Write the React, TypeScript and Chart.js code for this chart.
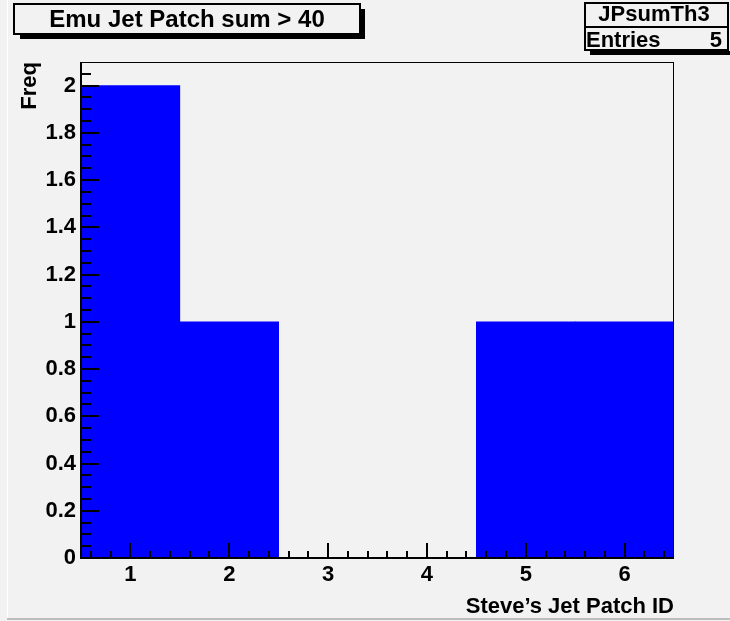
import React, { useEffect, useRef } from 'react';
import { Chart, registerables } from 'chart.js';

Chart.register(...registerables);

// ---- data ----
const BIN_CENTERS = [1, 2, 3, 4, 5, 6];
const COUNTS = [2, 1, 0, 0, 1, 1];
const X_TICKS = [1, 2, 3, 4, 5, 6];
const Y_TICKS = [0, 0.2, 0.4, 0.6, 0.8, 1, 1.2, 1.4, 1.6, 1.8, 2];
const X_MIN = 0.5;
const X_MAX = 6.5;
const Y_MIN = 0;
const Y_MAX = 2.1;
const TITLE = 'Emu Jet Patch sum > 40';
const HIST_NAME = 'JPsumTh3';
const ENTRIES_LABEL = 'Entries';
const ENTRIES = 5;
const X_TITLE = 'Steve\u2019s Jet Patch ID';
const Y_TITLE = 'Freq';

// ---- style ----
const BG = '#f2f2f2';
const BAR_COLOR = '#0000ff';
const FAMILY = "'Liberation Sans', Arial, Helvetica, sans-serif";
const LABEL_FONT = { family: FAMILY, size: 22, weight: 'bold' as const };

const fmt = (v: number) => String(Number(v.toFixed(2)));

const rootStyle = {
  id: 'rootStyle',
  beforeDraw(chart: any) {
    const { ctx, width, height } = chart;
    ctx.save();
    ctx.fillStyle = BG;
    ctx.fillRect(0, 0, width, height);
    // canvas border (3D look)
    ctx.fillStyle = '#ffffff';
    ctx.fillRect(7, 0, 1, 619);
    ctx.fillStyle = '#bdbdbd';
    ctx.fillRect(7, 618, width - 7, 2);
    ctx.restore();
  },
  afterDatasetsDraw(chart: any) {
    const { ctx, chartArea: a, scales } = chart;
    const x = scales.x;
    const y = scales.y;
    ctx.save();
    ctx.fillStyle = '#000';
    // frame
    ctx.fillRect(a.left, a.top, a.right - a.left, 1);
    ctx.fillRect(a.right - 1, a.top, 1, a.bottom - a.top);
    // axes
    ctx.fillRect(a.left - 1, a.top, 2, a.bottom - a.top + 1);
    ctx.fillRect(a.left - 1, a.bottom - 1, a.right - a.left + 1, 2);
    // y ticks (major 0.2, minor 0.05)
    for (let k = 1; ; k++) {
      const v = Y_MIN + k * 0.05;
      if (v >= Y_MAX - 1e-9) break;
      const py = Math.round(y.getPixelForValue(v));
      const major = k % 4 === 0;
      ctx.fillRect(a.left, py - 1, major ? 18 : 10, 2);
    }
    // x ticks (major 1, minor 0.2)
    for (let k = 3; k <= 32; k++) {
      const v = k * 0.2;
      if (v <= X_MIN || v >= X_MAX) continue;
      const px = Math.round(x.getPixelForValue(v));
      const major = k % 5 === 0;
      const len = major ? 15 : 7;
      ctx.fillRect(px - 1, a.bottom - len, 2, len);
    }
    ctx.restore();
  },
  afterDraw(chart: any) {
    const { ctx } = chart;
    ctx.save();
    // title box
    ctx.fillStyle = '#000';
    ctx.fillRect(361, 9, 4, 30);
    ctx.fillRect(20, 35, 345, 4);
    ctx.fillStyle = BG;
    ctx.fillRect(13, 3, 348, 32);
    ctx.strokeStyle = '#000';
    ctx.lineWidth = 2;
    ctx.strokeRect(14, 4, 346, 30);
    ctx.fillStyle = '#000';
    ctx.font = `bold 24px ${FAMILY}`;
    ctx.textAlign = 'center';
    ctx.textBaseline = 'alphabetic';
    ctx.fillText(TITLE, 187, 27);

    // stats box
    ctx.fillStyle = '#000';
    ctx.fillRect(590, 51, 150, 4);
    ctx.fillStyle = BG;
    ctx.fillRect(584, 2, 146, 49);
    ctx.strokeStyle = '#000';
    ctx.lineWidth = 2;
    ctx.strokeRect(585, 3, 143, 47);
    ctx.fillStyle = '#000';
    ctx.fillRect(585, 26, 143, 2);
    ctx.font = `bold 22px ${FAMILY}`;
    ctx.textAlign = 'center';
    ctx.fillText(HIST_NAME, 654, 21);
    ctx.textAlign = 'left';
    ctx.fillText(ENTRIES_LABEL, 586, 47);
    ctx.textAlign = 'right';
    ctx.fillText(String(ENTRIES), 722, 47);
    ctx.restore();
  },
};

export default function App() {
  const ref = useRef<HTMLCanvasElement>(null);
  useEffect(() => {
    const canvas = ref.current!;
    const chart = new Chart(canvas, {
      type: 'bar',
      data: {
        datasets: [
          {
            label: HIST_NAME,
            data: BIN_CENTERS.map((x, i) => ({ x, y: COUNTS[i] })),
            backgroundColor: BAR_COLOR,
            borderWidth: 0,
            barPercentage: 1,
            categoryPercentage: 1,
          },
        ],
      },
      options: {
        responsive: false,
        animation: false,
        devicePixelRatio: 1,
        layout: { padding: { left: 0, top: 62, right: 56, bottom: 0 } },
        plugins: {
          legend: { display: false },
          tooltip: { enabled: false },
          title: { display: false },
        },
        scales: {
          x: {
            type: 'linear',
            min: X_MIN,
            max: X_MAX,
            offset: false,
            grid: { display: false, drawTicks: false },
            border: { display: false },
            afterBuildTicks: (s: any) => {
              s.ticks = X_TICKS.map((v) => ({ value: v }));
            },
            afterFit: (s: any) => {
              s.height = 63;
            },
            ticks: {
              color: '#000',
              font: LABEL_FONT,
              padding: 4,
              maxRotation: 0,
              autoSkip: false,
              callback: (v: any) => fmt(Number(v)),
            },
            title: {
              display: true,
              text: X_TITLE,
              align: 'end',
              color: '#000',
              font: LABEL_FONT,
              padding: { top: 0, bottom: 1 },
            },
          },
          y: {
            type: 'linear',
            min: Y_MIN,
            max: Y_MAX,
            grid: { display: false, drawTicks: false },
            border: { display: false },
            afterBuildTicks: (s: any) => {
              s.ticks = Y_TICKS.map((v) => ({ value: v }));
            },
            afterFit: (s: any) => {
              s.width = 81;
            },
            ticks: {
              color: '#000',
              font: LABEL_FONT,
              padding: 5,
              autoSkip: false,
              callback: (v: any) => fmt(Number(v)),
            },
            title: {
              display: true,
              text: Y_TITLE,
              align: 'end',
              color: '#000',
              font: LABEL_FONT,
              padding: { top: 17, bottom: 0 },
            },
          },
        },
      } as any,
      plugins: [rootStyle],
    });
    return () => chart.destroy();
  }, []);

  return (
    <div style={{ position: 'absolute', left: 0, top: 0, width: 730, height: 621, background: BG, overflow: 'hidden' }}>
      <canvas ref={ref} width={730} height={621} style={{ display: 'block', width: 730, height: 621 }} />
    </div>
  );
}
